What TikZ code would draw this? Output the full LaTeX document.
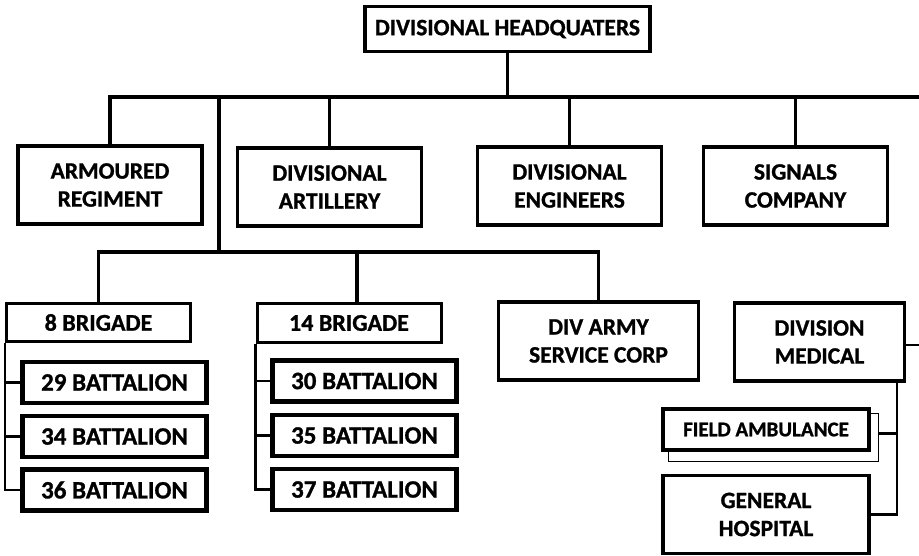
\documentclass[tikz,border=0pt]{standalone}
\usepackage{fontspec}
\setmainfont{Carlito}[BoldFeatures={FakeBold=1}]
\usepackage{tikz}
\usetikzlibrary{positioning,calc}
\tikzset{
	unitbox/.style={draw=black,fill=white,line width=3.6pt,inner sep=0,align=center,
		font=\bfseries\fontsize{23.5}{28}\selectfont,minimum width=184pt,minimum height=78pt},
	brigbox/.style={unitbox,line width=3pt,minimum height=38pt,font=\bfseries\fontsize{24}{28}\selectfont},
	battbox/.style={unitbox,line width=4.4pt,minimum height=41pt,font=\bfseries\fontsize{25}{28}\selectfont},
	link/.style={draw=black,line width=3.6pt},
	sublink/.style={draw=black,line width=2.4pt}
}

\begin{document}
\begin{tikzpicture}[x=1pt,y=-1pt]

   \useasboundingbox (0,0) rectangle (919,556);

   % Headquarters
   \node[unitbox,minimum width=285pt,minimum height=45pt] (hq) at (507.5,29) {DIVISIONAL HEADQUATERS};

   % Divisional units
   \node[unitbox] (armd) at (110,185) {ARMOURED\\REGIMENT};
   \node[unitbox] (arty) at (329.5,187) {DIVISIONAL\\ARTILLERY};
   \node[unitbox] (engr) at (569.5,186) {DIVISIONAL\\ENGINEERS};
   \node[unitbox] (sigs) at (795.5,186) {SIGNALS\\COMPANY};

   % Brigades
   \node[brigbox] (brig8) at (98.5,322.5) {8 BRIGADE};
   \node[brigbox] (brig14) at (349,323) {14 BRIGADE};
   \node[unitbox,minimum width=200pt] (dasc) at (598.5,341) {DIV ARMY\\SERVICE CORP};
   \node[unitbox,minimum width=170pt] (med) at (819.5,342) {DIVISION\\MEDICAL};

   % Battalions
   \node[battbox] (bn29) at (114.5,382.5) {29 BATTALION};
   \node[battbox] (bn34) at (114.5,436.5) {34 BATTALION};
   \node[battbox] (bn36) at (114.5,490) {36 BATTALION};
   \node[battbox] (bn30) at (364.5,381) {30 BATTALION};
   \node[battbox] (bn35) at (364.5,435.5) {35 BATTALION};
   \node[battbox] (bn37) at (364.5,489.5) {37 BATTALION};

   % Medical units
   \node[draw=black,line width=1.2pt,minimum width=210pt,minimum height=48pt] (fash) at (773.5,437.5) {};
   \node[battbox,minimum width=206pt,font=\bfseries\fontsize{21}{26}\selectfont] (fa) at (766,429.5) {FIELD AMBULANCE};
   \node[unitbox,minimum width=206pt] (hosp) at (766,514.5) {GENERAL\\HOSPITAL};

   % Lines
   \coordinate (busR) at (919,97);
   \coordinate (split) at (219,252);
   \coordinate (medR) at (919,345);
   \coordinate (trunk) at (897,382);

   \draw[link] (hq.south) -- (hq.south |- busR);
   \draw[link] (armd.north) |- (busR);
   \draw[link] (arty.north) -- (arty.north |- busR);
   \draw[link] (engr.north) -- (engr.north |- busR);
   \draw[link] (sigs.north) -- (sigs.north |- busR);

   \draw[link] (split |- busR) -- (split);
   \draw[link] (brig8.north) -- (brig8.north |- split) -- (dasc.north |- split) -- (dasc.north);
   \draw[link] ([xshift=8pt]brig14.north) -- ([xshift=8pt]brig14.north |- split);

   \draw[sublink] (brig8.south west) |- (bn36.west);
   \draw[sublink] (brig8.south west |- bn29.west) -- (bn29.west);
   \draw[sublink] (brig8.south west |- bn34.west) -- (bn34.west);
   \draw[sublink] (brig14.south west) |- (bn37.west);
   \draw[sublink] (brig14.south west |- bn30.west) -- (bn30.west);
   \draw[sublink] (brig14.south west |- bn35.west) -- (bn35.west);

   \draw[sublink,line width=2.8pt] (med.east |- medR) -- (medR);
   \draw[sublink,line width=2.8pt] (trunk) |- (hosp.east);
   \draw[sublink,line width=2.8pt] ($(fash.east)+(0,-4)$) -- ($(fash.east -| trunk)+(0,-4)$);

\end{tikzpicture}
\end{document}
